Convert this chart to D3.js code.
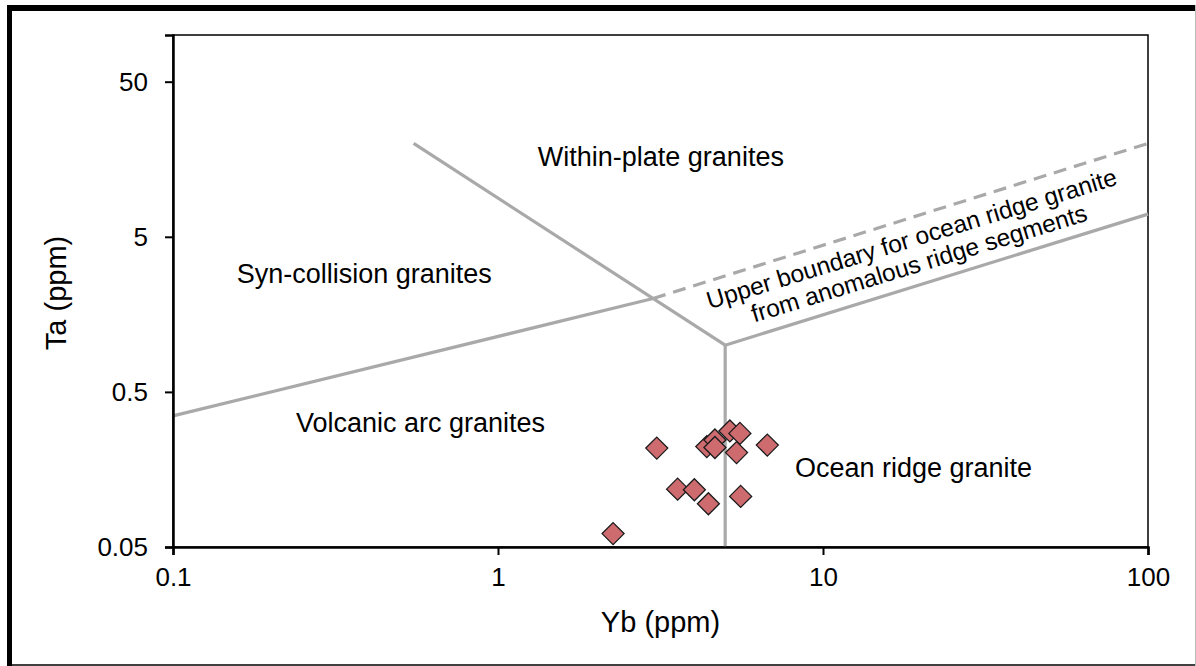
<!DOCTYPE html>
<html>
<head>
    <script src="https://d3js.org/d3.v7.min.js"></script>
<style>
    body{
        margin: 0;
        background: white;
    }
    text{
        font-family: "Liberation Sans", Arial, sans-serif;
        fill: black;
    }
</style>
</head>
<body>

<script>

    // sample data, Yb and Ta in ppm
    var ybValues = [3.08, 2.26, 3.57, 4.02, 4.44, 4.39, 4.65, 4.65, 5.17, 5.55, 5.42, 6.74, 5.58];
    var taValues = [0.217, 0.061, 0.118, 0.117, 0.095, 0.222, 0.245, 0.219, 0.28, 0.27, 0.203, 0.227, 0.106];

    // discrimination boundaries (Yb, Ta)
    var vagLine = [[0.1, 0.35], [3, 2]];
    var wpgLine = [[0.55, 20], [5, 1]];
    var orgVertical = [[5, 0.05], [5, 1]];
    var orgLine = [[5, 1], [100, 7]];
    var anomalousLine = [[3, 2], [100, 20]];

    // axis ticks
    var xTicks = [0.1, 1, 10, 100];
    var xTickLabels = ['0.1', '1', '10', '100'];
    var yTicks = [0.05, 0.5, 5, 50];
    var yTickLabels = ['0.05', '0.5', '5', '50'];

    // region labels and where they sit (Yb, Ta)
    var regionNames = ['Within-plate granites', 'Syn-collision granites', 'Volcanic arc granites', 'Ocean ridge granite'];
    var regionAt = [[3.17, 14.4], [0.157, 2.52], [0.239, 0.276], [8.2, 0.1415]];
    var regionAnchor = ['middle', 'start', 'start', 'start'];
    var noteLines = ['Upper boundary for ocean ridge granite', 'from anomalous ridge segments'];
    var noteAt = [19.05, 4.31];

    // size
    var W = 1196, H = 666;
    var margin = {
        top: 35,
        right: 48,
        bottom: 119,
        left: 173
    },
    width = W - margin.left - margin.right,
    height = H - margin.top - margin.bottom;

    var svg = d3.select('body')
        .append('svg')
        .attr('width', W)
        .attr('height', H);

    // screenshot frame
    svg.append('line').attr('x1', 9.5).attr('x2', 9.5).attr('y1', 5).attr('y2', H)
        .attr('stroke', 'black').attr('stroke-width', 5);
    svg.append('line').attr('x1', 7).attr('x2', W).attr('y1', 8).attr('y2', 8)
        .attr('stroke', 'black').attr('stroke-width', 6);
    svg.append('line').attr('x1', 7).attr('x2', W).attr('y1', 665).attr('y2', 665)
        .attr('stroke', 'black').attr('stroke-width', 1.5);
    svg.append('line').attr('x1', 1195.5).attr('x2', 1195.5).attr('y1', 5).attr('y2', H)
        .attr('stroke', '#bbb').attr('stroke-width', 1);

    var g = svg.append('g')
        .attr('transform', 'translate(' + margin.left + ',' + margin.top + ')');

    // scales
    var xScale = d3.scaleLog()
        .domain([0.1, 100])
        .range([0, width]);
    var yScale = d3.scaleLog()
        .domain([0.05, 100])
        .range([height, 0]);

    // plot border
    g.append('rect')
        .attr('width', width)
        .attr('height', height)
        .attr('fill', 'none')
        .attr('stroke', 'black')
        .attr('stroke-width', 1.5);

    // boundaries
    var line = d3.line()
        .x(d => xScale(d[0]))
        .y(d => yScale(d[1]));

    [vagLine, wpgLine, orgVertical, orgLine].forEach(function (pts) {
        g.append('path')
            .attr('d', line(pts))
            .attr('fill', 'none')
            .attr('stroke', '#a9a9a9')
            .attr('stroke-width', 3.2);
    });

    g.append('path')
        .attr('d', line(anomalousLine))
        .attr('fill', 'none')
        .attr('stroke', '#a9a9a9')
        .attr('stroke-width', 3.2)
        .attr('stroke-dasharray', '13,8');

    // axes
    var xAxis = d3.axisBottom(xScale)
        .tickValues(xTicks)
        .tickFormat((d, i) => xTickLabels[i])
        .tickSize(8)
        .tickPadding(13);
    var yAxis = d3.axisLeft(yScale)
        .tickValues(yTicks)
        .tickFormat((d, i) => yTickLabels[i])
        .tickSize(8)
        .tickPadding(17);

    var xg = g.append('g')
        .attr('transform', 'translate(0,' + height + ')')
        .call(xAxis);
    var yg = g.append('g')
        .call(yAxis);

    [xg, yg].forEach(function (a) {
        a.select('.domain').attr('stroke', 'black').attr('stroke-width', 2.5);
        a.selectAll('.tick line').attr('stroke', 'black').attr('stroke-width', 2);
        a.selectAll('.tick text')
            .style('font-size', '26px')
            .style('font-family', '"Liberation Sans", Arial, sans-serif')
            .attr('fill', 'black');
    });

    // axis titles
    g.append('text')
        .attr('x', width / 2)
        .attr('y', height + 85)
        .attr('text-anchor', 'middle')
        .style('font-size', '29px')
        .text('Yb (ppm)');

    g.append('text')
        .attr('transform', 'translate(' + (66 - margin.left) + ',' + (height / 2 + 2) + ') rotate(-90)')
        .attr('text-anchor', 'middle')
        .style('font-size', '29px')
        .text('Ta (ppm)');

    // region labels
    regionNames.forEach(function (name, i) {
        g.append('text')
            .attr('x', xScale(regionAt[i][0]))
            .attr('y', yScale(regionAt[i][1]))
            .attr('text-anchor', regionAnchor[i])
            .style('font-size', '27px')
            .text(name);
    });

    var note = g.append('text')
        .attr('transform', 'translate(' + xScale(noteAt[0]) + ',' + yScale(noteAt[1]) + ') rotate(-17)')
        .attr('text-anchor', 'middle')
        .style('font-size', '24.5px');
    noteLines.forEach(function (t, i) {
        note.append('tspan')
            .attr('x', 0)
            .attr('dy', i == 0 ? 0 : '1.05em')
            .text(t);
    });

    // samples as diamonds
    var diamond = 'M0,-11L11,0L0,11L-11,0Z';
    g.selectAll('.dot')
        .data(ybValues)
        .enter()
        .append('path')
        .attr('class', 'dot')
        .attr('d', diamond)
        .attr('transform', (d, i) => 'translate(' + xScale(d) + ',' + yScale(taValues[i]) + ')')
        .attr('fill', '#cd6b6f')
        .attr('stroke', '#1a1a1a')
        .attr('stroke-width', 1.3);

</script>
</body>
</html>
